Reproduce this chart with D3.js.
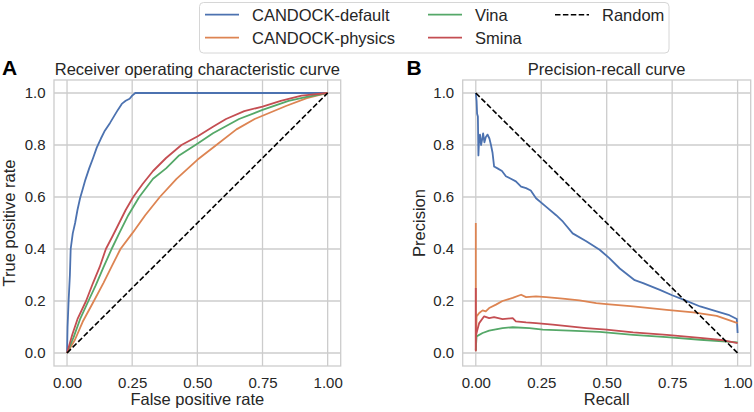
<!DOCTYPE html>
<html>
<head>
<meta charset="utf-8">
<script src="https://cdn.jsdelivr.net/npm/d3@7"></script>
<style>
  body { margin: 0; background: #fff; }
  svg { display: block; font-family: "Liberation Sans", Arial, sans-serif; }
</style>
</head>
<body>
<script>
// series names and colours (seaborn "deep")
const seriesNames = ["CANDOCK-default", "CANDOCK-physics", "Vina", "Smina"]
const seriesColors = ["#4c72b0", "#dd8452", "#55a868", "#c44e52"]

// ROC curves, [fpr, tpr]
const rocDefault = [[0,0],[0.002,0.1],[0.006,0.2],[0.011,0.3],[0.014,0.4],[0.022,0.46],[0.031,0.5],[0.04,0.55],[0.05,0.595],[0.06,0.63],[0.07,0.665],[0.085,0.71],[0.1,0.75],[0.114,0.79],[0.13,0.825],[0.145,0.855],[0.165,0.885],[0.18,0.91],[0.195,0.935],[0.21,0.958],[0.225,0.97],[0.24,0.978],[0.25,0.99],[0.262,1.0],[1,1]]
const rocPhysics = [[0,0],[0.03,0.05],[0.06,0.12],[0.103,0.2],[0.14,0.27],[0.17,0.33],[0.205,0.4],[0.25,0.46],[0.3,0.53],[0.356,0.6],[0.42,0.67],[0.5,0.743],[0.573,0.8],[0.65,0.86],[0.72,0.9],[0.78,0.925],[0.84,0.95],[0.92,0.98],[1,1]]
const rocVina = [[0,0],[0.025,0.06],[0.05,0.13],[0.082,0.2],[0.11,0.26],[0.14,0.33],[0.171,0.4],[0.2,0.46],[0.235,0.53],[0.277,0.6],[0.33,0.67],[0.38,0.71],[0.43,0.76],[0.5,0.805],[0.56,0.845],[0.66,0.9],[0.75,0.935],[0.85,0.97],[0.92,0.985],[1,1]]
const rocSmina = [[0,0],[0.02,0.07],[0.04,0.13],[0.073,0.2],[0.1,0.27],[0.125,0.33],[0.149,0.4],[0.175,0.45],[0.2,0.5],[0.225,0.55],[0.254,0.6],[0.29,0.65],[0.33,0.7],[0.38,0.75],[0.439,0.8],[0.5,0.833],[0.56,0.87],[0.61,0.9],[0.68,0.93],[0.75,0.948],[0.82,0.97],[0.9,0.99],[1,1]]
const rocRandom = [[0,0],[1,1]]

// precision-recall curves, [recall, precision]
const prDefault = [[0,1],[0.003,0.97],[0.005,0.92],[0.008,0.91],[0.01,0.76],[0.013,0.83],[0.016,0.84],[0.02,0.8],[0.024,0.82],[0.028,0.845],[0.033,0.81],[0.038,0.83],[0.045,0.84],[0.052,0.825],[0.058,0.8],[0.064,0.77],[0.07,0.717],[0.083,0.71],[0.1,0.7],[0.115,0.68],[0.134,0.67],[0.153,0.66],[0.173,0.64],[0.192,0.634],[0.21,0.625],[0.23,0.595],[0.268,0.563],[0.307,0.53],[0.333,0.505],[0.37,0.46],[0.422,0.43],[0.473,0.397],[0.51,0.365],[0.55,0.325],[0.607,0.28],[0.639,0.269],[0.703,0.243],[0.75,0.222],[0.793,0.205],[0.857,0.179],[0.92,0.16],[0.965,0.147],[0.997,0.131],[1,0.077]]
const prPhysics = [[0,0.5],[0,0.01],[0.003,0.141],[0.013,0.154],[0.026,0.164],[0.038,0.16],[0.051,0.173],[0.077,0.186],[0.102,0.2],[0.141,0.212],[0.173,0.224],[0.192,0.215],[0.23,0.218],[0.269,0.215],[0.332,0.209],[0.396,0.202],[0.46,0.192],[0.499,0.188],[0.601,0.179],[0.729,0.166],[0.831,0.156],[0.92,0.143],[1,0.115]]
const prVina = [[0,0.01],[0.001,0.032],[0.003,0.064],[0.026,0.077],[0.051,0.086],[0.102,0.096],[0.141,0.099],[0.205,0.096],[0.256,0.09],[0.358,0.086],[0.473,0.081],[0.601,0.07],[0.729,0.061],[0.857,0.051],[1,0.041]]
const prSmina = [[0,0.25],[0,0.01],[0.001,0.07],[0.013,0.115],[0.032,0.141],[0.051,0.134],[0.07,0.138],[0.102,0.13],[0.141,0.134],[0.153,0.122],[0.192,0.118],[0.23,0.115],[0.294,0.109],[0.358,0.102],[0.422,0.096],[0.499,0.09],[0.601,0.079],[0.729,0.07],[0.857,0.058],[0.946,0.049],[1,0.038]]
const prRandom = [[0,1],[1,0]]

// tick values
const xTicks = [0, 0.25, 0.5, 0.75, 1]
const yTicks = [0, 0.2, 0.4, 0.6, 0.8, 1]

const W = 754, H = 412
const textColor = "#262626", gridColor = "#cccccc"

const svg = d3.select("body").append("svg")
  .attr("width", W).attr("height", H)

// one panel: frame, grid, ticks, curves
function panel(opts) {
  const x = d3.scaleLinear().domain([-0.05, 1.05]).range([opts.left, opts.right])
  const y = d3.scaleLinear().domain([-0.05, 1.05]).range([366, 80])
  const g = svg.append("g")

  // grid
  g.selectAll(".gx").data(xTicks).enter().append("line")
    .attr("x1", d => x(d)).attr("x2", d => x(d))
    .attr("y1", y.range()[1]).attr("y2", y.range()[0])
    .attr("stroke", gridColor).attr("stroke-width", 1.3)
  g.selectAll(".gy").data(yTicks).enter().append("line")
    .attr("y1", d => y(d)).attr("y2", d => y(d))
    .attr("x1", opts.left).attr("x2", opts.right)
    .attr("stroke", gridColor).attr("stroke-width", 1.3)
  // frame
  g.append("rect")
    .attr("x", opts.left).attr("y", 80)
    .attr("width", opts.right - opts.left).attr("height", 286)
    .attr("fill", "none").attr("stroke", gridColor).attr("stroke-width", 1.3)

  // axes (labels only)
  const ax = g.append("g").attr("transform", "translate(0,366)")
    .call(d3.axisBottom(x).tickValues(xTicks).tickFormat(d3.format(".2f")).tickSize(0).tickPadding(11))
  const ay = g.append("g").attr("transform", "translate(" + opts.left + ",0)")
    .call(d3.axisLeft(y).tickValues(yTicks).tickFormat(d3.format(".1f")).tickSize(0).tickPadding(8.5))
  ;[ax, ay].forEach(a => {
    a.select(".domain").remove()
    a.selectAll("text").attr("fill", textColor).style("font-size", "15px")
      .style("font-family", '"Liberation Sans", Arial, sans-serif')
  })

  // curves
  const line = d3.line().x(d => x(d[0])).y(d => y(d[1]))
  opts.series.forEach((s, i) => {
    g.append("path").datum(s)
      .attr("d", line).attr("fill", "none")
      .attr("stroke", seriesColors[i]).attr("stroke-width", 1.8)
      .attr("stroke-linejoin", "round")
  })
  g.append("path").datum(opts.random)
    .attr("d", line).attr("fill", "none")
    .attr("stroke", "#000").attr("stroke-width", 1.6)
    .attr("stroke-dasharray", "5.5,2.4")

  // texts
  const mid = (opts.left + opts.right) / 2
  g.append("text").attr("x", mid).attr("y", 75).attr("text-anchor", "middle")
    .attr("fill", textColor).style("font-size", "16.5px").text(opts.title)
  g.append("text").attr("x", mid).attr("y", 405).attr("text-anchor", "middle")
    .attr("fill", textColor).style("font-size", "16.5px").text(opts.xLabel)
  g.append("text").attr("transform", "translate(" + opts.yLabelX + ",223) rotate(-90)")
    .attr("text-anchor", "middle")
    .attr("fill", textColor).style("font-size", "16.5px").text(opts.yLabel)
  g.append("text").attr("x", opts.letterX).attr("y", 75)
    .attr("fill", "#000").style("font-size", "21px").style("font-weight", "bold")
    .text(opts.letter)
}

panel({
  left: 54, right: 340.7, letter: "A", letterX: 2, yLabelX: 15,
  title: "Receiver operating characteristic curve",
  xLabel: "False positive rate", yLabel: "True positive rate",
  series: [rocDefault, rocPhysics, rocVina, rocSmina], random: rocRandom
})
panel({
  left: 462.7, right: 750.7, letter: "B", letterX: 406.5, yLabelX: 425,
  title: "Precision-recall curve",
  xLabel: "Recall", yLabel: "Precision",
  series: [prDefault, prPhysics, prVina, prSmina], random: prRandom
})

// legend, three columns
const legend = svg.append("g")
legend.append("rect")
  .attr("x", 199.5).attr("y", 2.5).attr("width", 469.5).attr("height", 50.5)
  .attr("rx", 4).attr("fill", "#fff").attr("stroke", "#d6d6d6").attr("stroke-width", 1)

const legendItems = seriesNames.map((n, i) => ({name: n, color: seriesColors[i], dash: null}))
  .concat([{name: "Random", color: "#000", dash: "5.5,2.4"}])
const colLine = [205, 428, 555]
const colText = [252, 475, 602]
const rowY = [14.7, 37.7]

legendItems.forEach((d, i) => {
  const c = Math.floor(i / 2), r = i % 2
  legend.append("line")
    .attr("x1", colLine[c]).attr("x2", colLine[c] + 34)
    .attr("y1", rowY[r]).attr("y2", rowY[r])
    .attr("stroke", d.color).attr("stroke-width", d.dash ? 1.6 : 1.8)
    .attr("stroke-dasharray", d.dash)
  legend.append("text")
    .attr("x", colText[c]).attr("y", rowY[r] + 6)
    .attr("fill", textColor).style("font-size", "16.5px")
    .text(d.name)
})
</script>
</body>
</html>
